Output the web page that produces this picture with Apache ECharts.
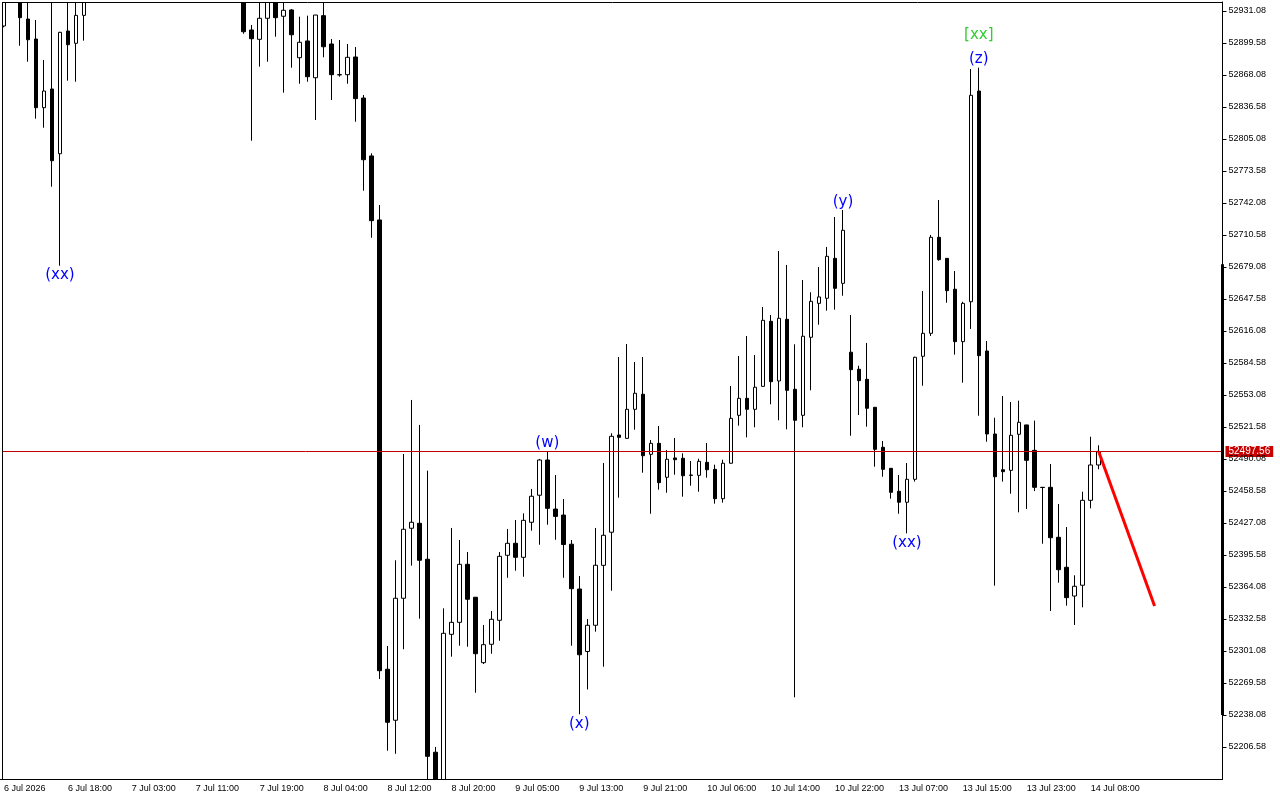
<!DOCTYPE html>
<html>
<head>
<meta charset="utf-8">
<title>H1 candles</title>
<script src="https://cdn.jsdelivr.net/npm/echarts@6.0.0/dist/echarts.min.js"></script>
<style>
html, body { margin: 0; padding: 0; background: #fff; }
#main { width: 1280px; height: 800px; }
</style>
</head>
<body>
<div id="main"></div>
<script>
// time scale labels, one every 8 bars
var tickLabels = ['6 Jul 2026', '6 Jul 18:00', '7 Jul 03:00', '7 Jul 11:00', '7 Jul 19:00', '8 Jul 04:00',
  '8 Jul 12:00', '8 Jul 20:00', '9 Jul 05:00', '9 Jul 13:00', '9 Jul 21:00', '10 Jul 06:00',
  '10 Jul 14:00', '10 Jul 22:00', '13 Jul 07:00', '13 Jul 15:00', '13 Jul 23:00', '14 Jul 08:00'];

// price scale labels
var yTicks = [52931.08, 52899.58, 52868.08, 52836.58, 52805.08, 52773.58, 52742.08, 52710.58,
  52679.08, 52647.58, 52616.08, 52584.58, 52553.08, 52521.58, 52490.08, 52458.58, 52427.08,
  52395.58, 52364.08, 52332.58, 52301.08, 52269.58, 52238.08, 52206.58];
var yMin = 52175.08;
var yMax = 52939.94;

// H1 bars (bars 11-29 are above the visible window)
var opens = [
  52916.3, 52952.0, 52965.0, 52923.2, 52903.5, 52835.9, 52854.3, 52790.6, 52911.4, 52899.3,
  52926.8, 52955, 52982, 52975, 53001, 52990, 52978, 52985, 53010, 53000,
  52992, 52976, 52990, 53003, 52998, 52980, 52968, 52979, 52970, 52982,
  52955, 52912.4, 52903.2, 52923.9, 52944.0, 52925.9, 52932.1, 52885.1, 52901.6, 52865.4,
  52926.5, 52898.6, 52868.4, 52868.4, 52885.8, 52845.4, 52788.4, 52725.4, 52283.1, 52232.9,
  52353.0, 52421.9, 52426.8, 52391.4, 52201.4, 52159.3, 52317.5, 52329.3, 52386.4, 52354.0,
  52289.6, 52307.7, 52331.3, 52395.3, 52407.1, 52393.3, 52427.8, 52454.4, 52489.1, 52440.8,
  52434.9, 52406.2, 52362.1, 52300.6, 52326.4, 52385.4, 52418.0, 52513.7, 52510.4, 52539.0,
  52553.8, 52494.7, 52505.5, 52472.1, 52491.1, 52490.8, 52474.3, 52474.0, 52486.8, 52479.9,
  52451.0, 52485.9, 52533.1, 52549.8, 52539.0, 52561.6, 52625.6, 52566.9, 52627.6, 52558.7,
  52533.1, 52609.9, 52643.3, 52648.3, 52687.6, 52663.0, 52595.2, 52578.4, 52568.5, 52541.0,
  52501.6, 52480.9, 52458.3, 52447.5, 52470.1, 52591.2, 52613.8, 52708.3, 52687.6, 52657.2,
  52605.6, 52644.9, 52852.3, 52596.4, 52514.7, 52479.5, 52478.9, 52514.4, 52523.6, 52498.6,
  52462.2, 52462.2, 52413.0, 52383.5, 52355.2, 52365.8, 52449.4, 52484.2
];
var highs = [
  52961.6, 52975.0, 52972.0, 52948.0, 52922.2, 52882.9, 52950.0, 52910.6, 52945.0, 52950.0,
  52968.0, 52990, 53005, 53012, 53020, 53008, 52996, 53018, 53032, 53015,
  53004, 52998, 53010, 53025, 53008, 52996, 52985, 52992, 52988, 52994,
  52962, 52917.3, 52950.0, 52956.0, 52952.0, 52947.0, 52933.0, 52925.5, 52926.5, 52927.3,
  52946.0, 52903.5, 52902.5, 52898.6, 52895.6, 52848.4, 52791.0, 52740.1, 52306.0, 52390.4,
  52495.0, 52548.2, 52523.6, 52478.6, 52206.6, 52343.1, 52422.2, 52410.3, 52398.5, 52354.3,
  52326.7, 52340.5, 52398.5, 52421.2, 52430.0, 52436.6, 52460.6, 52490.1, 52497.7, 52474.3,
  52450.7, 52410.3, 52374.9, 52332.6, 52422.2, 52486.1, 52515.4, 52590.5, 52603.3, 52585.6,
  52590.5, 52508.8, 52522.6, 52498.9, 52510.8, 52495.7, 52488.1, 52490.4, 52505.8, 52484.5,
  52489.4, 52561.9, 52591.5, 52611.2, 52592.5, 52639.7, 52631.8, 52694.8, 52681.1, 52603.0,
  52666.3, 52654.2, 52679.1, 52698.8, 52728.3, 52735.2, 52631.8, 52581.9, 52604.3, 52541.2,
  52507.8, 52481.2, 52474.3, 52486.1, 52590.8, 52655.5, 52710.6, 52745.0, 52687.9, 52675.1,
  52644.9, 52874.0, 52875.3, 52606.2, 52530.7, 52552.1, 52546.2, 52547.5, 52523.8, 52527.9,
  52462.5, 52485.2, 52445.8, 52423.1, 52375.6, 52457.9, 52512.0, 52503.6
];
var lows = [
  52915.0, 52945.0, 52896.9, 52881.2, 52825.1, 52816.2, 52758.1, 52680.4, 52862.5, 52861.5,
  52901.9, 52948, 52970, 52962, 52985, 52968, 52958, 52975, 52995, 52980,
  52970, 52962, 52980, 52990, 52974, 52960, 52955, 52962, 52956, 52962,
  52908.7, 52803.4, 52876.3, 52881.2, 52905.8, 52850.7, 52875.3, 52859.5, 52861.5, 52823.8,
  52885.5, 52843.5, 52866.4, 52859.5, 52822.1, 52754.2, 52707.9, 52273.5, 52202.9, 52199.9,
  52302.8, 52385.1, 52332.9, 52154.4, 52139.6, 52144.6, 52295.5, 52306.3, 52305.3, 52260.0,
  52288.3, 52298.4, 52311.2, 52373.2, 52380.1, 52374.2, 52419.5, 52405.7, 52425.4, 52410.6,
  52373.2, 52306.3, 52238.8, 52263.2, 52320.1, 52285.6, 52360.4, 52452.0, 52510.0, 52518.9,
  52476.6, 52436.2, 52459.9, 52456.9, 52474.6, 52453.0, 52463.8, 52457.9, 52471.7, 52446.1,
  52447.1, 52485.5, 52522.9, 52511.4, 52521.3, 52561.2, 52543.9, 52528.2, 52519.3, 52255.5,
  52521.3, 52557.7, 52622.3, 52636.1, 52637.1, 52650.8, 52513.0, 52533.4, 52521.9, 52482.5,
  52472.6, 52451.0, 52436.2, 52416.9, 52467.8, 52562.2, 52611.2, 52685.3, 52643.9, 52592.8,
  52565.2, 52618.1, 52532.7, 52507.1, 52365.4, 52467.8, 52455.9, 52437.6, 52440.9, 52458.5,
  52406.7, 52340.5, 52368.3, 52345.7, 52326.7, 52344.1, 52441.5, 52479.9
];
var closes = [
  52951.8, 52968.0, 52924.5, 52902.8, 52835.9, 52852.3, 52783.7, 52910.1, 52897.9, 52926.8,
  52955.0, 52982, 52975, 53001, 52990, 52978, 52985, 53010, 53000, 52992,
  52976, 52990, 53003, 52998, 52980, 52968, 52979, 52970, 52982, 52966,
  52910.7, 52903.8, 52923.9, 52943.9, 52924.5, 52931.8, 52907.7, 52900.3, 52866.4, 52927.1,
  52895.9, 52868.4, 52868.2, 52885.5, 52844.8, 52784.7, 52724.7, 52281.7, 52230.9, 52353.0,
  52420.9, 52427.8, 52390.4, 52197.4, 52159.3, 52318.5, 52329.3, 52386.4, 52352.0, 52298.4,
  52307.3, 52332.3, 52394.3, 52407.1, 52393.3, 52429.7, 52453.4, 52489.1, 52441.5, 52433.6,
  52405.9, 52362.4, 52297.4, 52326.4, 52385.5, 52415.0, 52512.4, 52511.4, 52539.0, 52554.8,
  52493.3, 52505.5, 52466.8, 52489.8, 52489.4, 52473.6, 52474.0, 52487.8, 52479.5, 52451.0,
  52485.9, 52530.1, 52549.8, 52539.0, 52560.7, 52626.6, 52566.2, 52628.6, 52557.7, 52528.2,
  52610.9, 52645.3, 52649.6, 52689.6, 52658.1, 52715.2, 52578.0, 52567.2, 52540.0, 52499.6,
  52479.9, 52457.3, 52447.5, 52470.1, 52590.2, 52613.8, 52708.3, 52686.3, 52655.8, 52605.6,
  52643.3, 52848.1, 52591.8, 52514.7, 52472.6, 52477.6, 52513.4, 52526.2, 52488.8, 52462.2,
  52462.0, 52412.6, 52381.1, 52353.6, 52364.8, 52449.4, 52484.2, 52497.56
];

var lastPrice = 52497.56;
// red projection line: [bar index, price]
var trendLine = [[137, 52497.56], [144, 52345.4]];
// wave labels: [bar index, price, text]
var waveLabels = [[7, 52671.2, '(xx)'], [68, 52505.5, '(w)'], [72, 52229.5, '(x)'],
  [105, 52743.3, '(y)'], [113, 52407.6, '(xx)'], [122, 52883.5, '(z)']];
var waveLabelsHigher = [[122, 52907.5, '[xx]']];
// thick marker on the price scale
var scaleBar = [52681.7, 52238.1];

var slotCount = 153;

var myChart = echarts.init(document.getElementById('main'));

var categories = [];
for (var i = 0; i < slotCount; i++) {
  categories.push(String(i));
}
var candleData = opens.map(function (o, i) {
  return [o, closes[i], lows[i], highs[i]];
});
function toPoints(list) {
  return list.map(function (d) {
    return { value: [d[0], d[1]], name: d[2] };
  });
}
function isTick(i) {
  return i % 8 === 0 && i / 8 < tickLabels.length;
}
function waveSeries(list, color) {
  return {
    type: 'scatter',
    data: toPoints(list),
    symbol: 'circle',
    symbolSize: 1,
    itemStyle: { color: 'rgba(0,0,0,0)', opacity: 1 },
    label: {
      show: true,
      position: 'inside',
      formatter: '{b}',
      color: color,
      opacity: 1,
      textBorderWidth: 0,
      fontFamily: 'DejaVu Sans',
      fontSize: 15
    },
    emphasis: { disabled: true },
    labelLayout: { hideOverlap: false },
    z: 6
  };
}

var fontSmall = { color: '#000', fontFamily: 'Liberation Sans', fontSize: 9 };

var option = {
  animation: false,
  backgroundColor: '#fff',
  grid: { left: -1.5, width: 1224, top: 2, height: 777 },
  xAxis: {
    type: 'category',
    data: categories,
    boundaryGap: true,
    z: 30,
    axisLine: { lineStyle: { color: '#000', width: 1 } },
    axisTick: {
      alignWithLabel: true,
      length: 4,
      interval: function (i) { return isTick(i); },
      lineStyle: { color: '#000' }
    },
    axisLabel: Object.assign({
      interval: function (i) { return isTick(i); },
      formatter: function (v) { return tickLabels[Number(v) / 8] || ''; },
      align: 'left',
      margin: 5
    }, fontSmall),
    splitLine: { show: false }
  },
  yAxis: {
    type: 'value',
    position: 'right',
    min: yMin,
    max: yMax,
    z: 30,
    splitLine: { show: false },
    axisLine: { show: true, lineStyle: { color: '#000' } },
    axisTick: { show: true, length: 4, customValues: yTicks, lineStyle: { color: '#000' } },
    axisLabel: Object.assign({
      customValues: yTicks,
      formatter: function (v) { return v.toFixed(2); },
      margin: 6
    }, fontSmall)
  },
  series: [
    {
      type: 'candlestick',
      data: candleData,
      barWidth: 4,
      clip: true,
      itemStyle: {
        color: '#fff',
        color0: '#000',
        borderColor: '#000',
        borderColor0: '#000',
        borderColorDoji: '#000',
        borderWidth: 1
      },
      markLine: {
        silent: true,
        symbol: ['none', 'none'],
        lineStyle: { color: '#c00000', width: 1, type: 'solid' },
        label: {
          position: 'end',
          distance: 3,
          formatter: lastPrice.toFixed(2),
          color: '#fff',
          backgroundColor: '#c80000',
          padding: [1, 3, 0, 3],
          fontFamily: 'Liberation Sans',
          fontSize: 10
        },
        data: [{ yAxis: lastPrice }]
      }
    },
    {
      type: 'line',
      data: trendLine,
      symbol: 'none',
      lineStyle: { color: '#ff0000', width: 3 },
      z: 5
    },
    waveSeries(waveLabels, '#0000ff'),
    waveSeries(waveLabelsHigher, '#32cd32')
  ]
};
myChart.setOption(option);

// frame, covers for bars running past the window, and the scale marker
var barTop = myChart.convertToPixel({ yAxisIndex: 0 }, scaleBar[0]);
var barBottom = myChart.convertToPixel({ yAxisIndex: 0 }, scaleBar[1]);
myChart.setOption({
  graphic: [
    { type: 'rect', shape: { x: 0, y: 0, width: 1280, height: 2 }, style: { fill: '#fff' }, silent: true, z: 20 },
    { type: 'rect', shape: { x: 0, y: 780, width: 1280, height: 20 }, style: { fill: '#fff' }, silent: true, z: 20 },
    { type: 'rect', shape: { x: 0, y: 0, width: 2, height: 800 }, style: { fill: '#fff' }, silent: true, z: 20 },
    {
      type: 'rect',
      shape: { x: 2.5, y: 2.5, width: 1220, height: 777 },
      style: { fill: 'none', stroke: '#000', lineWidth: 1 },
      silent: true,
      z: 25
    },
    {
      type: 'rect',
      shape: { x: 1221, y: barTop, width: 3, height: barBottom - barTop },
      style: { fill: '#000' },
      silent: true,
      z: 25
    }
  ]
});
</script>
</body>
</html>
